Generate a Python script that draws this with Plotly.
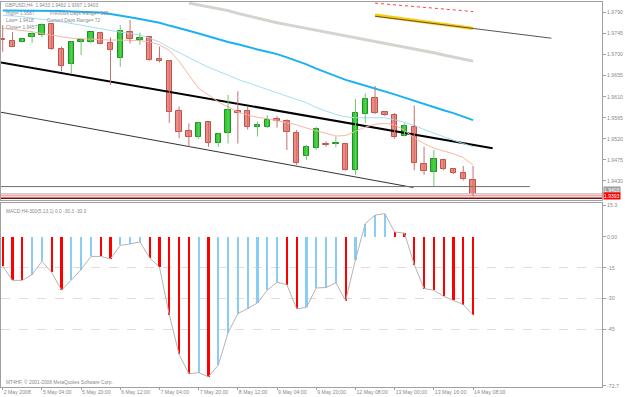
import plotly.graph_objects as go

# ---------------- data ----------------
bars = list(range(49))
opens = [1.9733, 1.9730, 1.9728, 1.9737, 1.9741, 1.9765, 1.9711, 1.9679, 1.9728, 1.9727,
         1.9746, 1.9725, 1.9692, 1.9749, 1.9731, 1.9737, 1.9691, 1.9686, 1.9580, 1.9537,
         1.9523, 1.9555, 1.9512, 1.9532, 1.9580, 1.9579, 1.9545, 1.9546, 1.9562, 1.9558,
         1.9533, 1.9483, 1.9500, 1.9510, 1.9508, 1.9510, 1.9453, 1.9573, 1.9607, 1.9577,
         1.9571, 1.9527, 1.9546, 1.9466, 1.9450, 1.9475, 1.9455, 1.9448, 1.9433]
highs = [1.9763, 1.9748, 1.9734, 1.9748, 1.9767, 1.9767, 1.9717, 1.9728, 1.9733, 1.9749,
         1.9749, 1.9737, 1.9763, 1.9774, 1.9747, 1.9738, 1.9717, 1.9688, 1.9589, 1.9553,
         1.9556, 1.9556, 1.9532, 1.9614, 1.9622, 1.9590, 1.9557, 1.9571, 1.9569, 1.9562,
         1.9539, 1.9507, 1.9546, 1.9515, 1.9525, 1.9511, 1.9605, 1.9617, 1.9633, 1.9579,
         1.9575, 1.9553, 1.9591, 1.9503, 1.9496, 1.9478, 1.9457, 1.9462, 1.9462]
lows = [1.9706, 1.9716, 1.9726, 1.9725, 1.9737, 1.9710, 1.9664, 1.9660, 1.9699, 1.9724,
        1.9722, 1.9635, 1.9674, 1.9724, 1.9721, 1.9687, 1.9683, 1.9554, 1.9521, 1.9503,
        1.9520, 1.9503, 1.9503, 1.9510, 1.9510, 1.9540, 1.9525, 1.9543, 1.9544, 1.9496,
        1.9464, 1.9475, 1.9496, 1.9503, 1.9502, 1.9452, 1.9443, 1.9553, 1.9573, 1.9569,
        1.9520, 1.9525, 1.9453, 1.9443, 1.9419, 1.9453, 1.9445, 1.9431, 1.9397]
closes = [1.9731, 1.9717, 1.9733, 1.9743, 1.9763, 1.9711, 1.9676, 1.9726, 1.9731, 1.9748,
          1.9723, 1.9710, 1.9751, 1.9733, 1.9735, 1.9689, 1.9686, 1.9577, 1.9535, 1.9523,
          1.9554, 1.9512, 1.9530, 1.9582, 1.9576, 1.9546, 1.9550, 1.9560, 1.9558, 1.9534,
          1.9468, 1.9503, 1.9540, 1.9507, 1.9512, 1.9453, 1.9575, 1.9605, 1.9575, 1.9571,
          1.9525, 1.9548, 1.9468, 1.9451, 1.9476, 1.9456, 1.9446, 1.9434, 1.9403]

ma_fast = [1.9756, 1.9754, 1.9751, 1.9749, 1.9745, 1.9741, 1.9738, 1.9735, 1.9734, 1.9732,
           1.9731, 1.9731, 1.9731, 1.9731, 1.9730, 1.9727, 1.9721, 1.9709, 1.9686, 1.9656,
           1.9628, 1.9614, 1.9599, 1.9588, 1.9577, 1.9571, 1.9566, 1.9563, 1.9559, 1.9555,
           1.9550, 1.9543, 1.9537, 1.9532, 1.9526, 1.9527, 1.9536, 1.9545, 1.9551, 1.9553,
           1.9550, 1.9538, 1.9522, 1.9510, 1.9500, 1.9494, 1.9488, 1.9480, 1.9464]
ma_mid = [1.9784, 1.9783, 1.9781, 1.9778, 1.9776, 1.9773, 1.9770, 1.9767, 1.9763, 1.9759,
          1.9755, 1.9751, 1.9748, 1.9745, 1.9742, 1.9735, 1.9727, 1.9715, 1.9704, 1.9694,
          1.9683, 1.9673, 1.9665, 1.9656, 1.9647, 1.9640, 1.9632, 1.9625, 1.9618, 1.9612,
          1.9604, 1.9597, 1.9587, 1.9579, 1.9572, 1.9567, 1.9565, 1.9565, 1.9565, 1.9565,
          1.9561, 1.9555, 1.9549, 1.9540, 1.9532, 1.9525, 1.9517, 1.9510, 1.9503]
ma_slow = [1.9794, 1.9794, 1.9794, 1.9794, 1.9793, 1.9793, 1.9793, 1.9792, 1.9791, 1.9791,
           1.9790, 1.9787, 1.9784, 1.9780, 1.9776, 1.9772, 1.9768, 1.9762, 1.9757, 1.9751,
           1.9745, 1.9739, 1.9732, 1.9727, 1.9722, 1.9716, 1.9711, 1.9706, 1.9701, 1.9694,
           1.9687, 1.9679, 1.9670, 1.9662, 1.9653, 1.9646, 1.9640, 1.9634, 1.9628, 1.9621,
           1.9615, 1.9608, 1.9601, 1.9594, 1.9588, 1.9581, 1.9575, 1.9568, 1.9560]
ma_long = [None] * 19 + [1.9810,
           1.9806, 1.9802, 1.9798, 1.9794, 1.9788, 1.9783, 1.9777, 1.9772, 1.9768, 1.9764,
           1.9760, 1.9756, 1.9752, 1.9748, 1.9744, 1.9740, 1.9736, 1.9732, 1.9729, 1.9725,
           1.9721, 1.9716, 1.9712, 1.9708, 1.9704, 1.9699, 1.9695, 1.9691, 1.9686]

macd = [-14.3, -21.2, -21.2, -18.4, -11.9, -17.3, -26.0, -20.8, -16.0, -9.5,
        -9.5, -10.7, -4.1, -3.4, -2.4, -10.2, -14.8, -37.9, -57.4, -66.8,
        -66.3, -68.3, -62.6, -46.8, -37.4, -35.0, -32.2, -26.0, -22.1, -23.3,
        -35.1, -34.4, -24.9, -24.7, -22.4, -31.1, -11.1, 6.5, 10.7, 11.4,
        2.4, 1.9, -13.5, -25.2, -26.0, -29.0, -30.9, -33.0, -38.2]

x_tick_bars = [0, 4, 8, 12, 16, 20, 24, 28, 32, 36, 40, 44, 48]
x_tick_text = ["2 May 2008", "5 May 04:00", "5 May 20:00", "6 May 12:00", "7 May 04:00",
               "7 May 20:00", "8 May 12:00", "9 May 04:00", "9 May 20:00", "12 May 08:00",
               "13 May 00:00", "13 May 16:00", "14 May 08:00"]
price_ticks = [1.9790, 1.9745, 1.9700, 1.9655, 1.9610, 1.9565, 1.9520, 1.9475, 1.9430]
macd_ticks = [15.3, 0.0, -15, -30, -45, -72.7]
macd_tick_text = ["15.3", "0.00", "-15", "-30", "-45", "-72.7"]
macd_grid = [-15, -30, -45]

# drawn objects: (bar positions, prices)
channel_top = ([-1, 50], [1.9686, 1.9500])
channel_bottom = ([-1, 41.9], [1.9580, 1.9416])
yellow_trend = ([38, 48], [1.9784, 1.9756])
gray_trend = ([38, 56], [1.9782, 1.9735])
red_dotted = ([38, 48], [1.9810, 1.9792])
prev_low = ([-1, 53.8], [1.9418, 1.9418])
bid_level = 1.9403
pink_level = 1.9399
red_level = 1.9393

# ---------------- styling / layout constants ----------------
W, H = 625, 397
ML, MR, MT, MB = 1, 23, 2, 10
PW, PH = W - ML - MR, H - MT - MB
GRAY = "#a0a0a0"
TXT = "#8a8a8a"
FONT = "Liberation Sans"


def dom(top_px, bot_px):
    return [(H - MB - bot_px) / PH, (H - MB - top_px) / PH]


def paper(px, py):
    return (px - ML) / PW, (H - MB - py) / PH


fig = go.Figure()

# long MA (grey)
fig.add_trace(go.Scatter(x=bars, y=ma_long, mode="lines",
                         line=dict(color="#d6d2ce", width=3), xaxis="x", yaxis="y"))
# trend lines
for (xs, ys), col, w, dash in [
    (channel_top, "#000000", 2, "solid"),
    (channel_bottom, "#333333", 1, "solid"),
    (yellow_trend, "#ffcc00", 3.5, "solid"),
    (gray_trend, "#555555", 1, "solid"),
    (red_dotted, "#ff4040", 1, "dot"),
    (prev_low, "#707070", 1, "solid"),
]:
    fig.add_trace(go.Scatter(x=xs, y=ys, mode="lines", line=dict(color=col, width=w, dash=dash),
                             xaxis="x", yaxis="y"))
for lvl, col, w in [(bid_level, "#c8c8c8", 1), (pink_level, "#f4a4a4", 2), (red_level, "#6a1010", 1.5)]:
    fig.add_trace(go.Scatter(x=[-1, 62], y=[lvl, lvl], mode="lines",
                             line=dict(color=col, width=w), xaxis="x", yaxis="y"))

# MAs
fig.add_trace(go.Scatter(x=bars, y=ma_slow, mode="lines", line=dict(color="#1ab2f0", width=2),
                         xaxis="x", yaxis="y"))
fig.add_trace(go.Scatter(x=bars, y=ma_mid, mode="lines", line=dict(color="#a8dcf6", width=1),
                         xaxis="x", yaxis="y"))
fig.add_trace(go.Scatter(x=bars, y=ma_fast, mode="lines", line=dict(color="#f7b7a3", width=1),
                         xaxis="x", yaxis="y"))

# wicks
for bull, col in [(False, "#c9716b"), (True, "#6cc86c")]:
    wx, wy = [], []
    for i, o, h, l, c in zip(bars, opens, highs, lows, closes):
        if (c > o) == bull:
            wx += [i, i, None]
            wy += [l, h, None]
    fig.add_trace(go.Scatter(x=wx, y=wy, mode="lines", line=dict(color=col, width=1),
                             xaxis="x", yaxis="y"))

# bodies
fig.add_trace(go.Bar(
    x=bars, y=[abs(c - o) for o, c in zip(opens, closes)],
    base=[min(o, c) for o, c in zip(opens, closes)], width=0.55,
    marker=dict(color=["#33cc33" if c > o else "#ee8a82" for o, c in zip(opens, closes)],
                line=dict(color=["#1f8f1f" if c > o else "#c0504a" for o, c in zip(opens, closes)],
                          width=1)),
    xaxis="x", yaxis="y"))

# MACD histogram
mcol = ["#ff0000"] + ["#87cdf5" if macd[i] > macd[i - 1] else "#ff0000" for i in range(1, len(macd))]
fig.add_trace(go.Bar(x=bars, y=macd, width=0.22, marker=dict(color=mcol, line=dict(width=0)),
                     xaxis="x2", yaxis="y2"))
fig.add_trace(go.Scatter(x=bars, y=macd, mode="lines", line=dict(color="#b4b4b4", width=1),
                         xaxis="x2", yaxis="y2"))

axis_font = dict(family=FONT, size=5.2, color=TXT)
fig.update_layout(
    width=W, height=H, margin=dict(l=ML, r=MR, t=MT, b=MB, autoexpand=False),
    paper_bgcolor="white", plot_bgcolor="white", showlegend=False,
    barmode="overlay", bargap=0,
    xaxis=dict(domain=[0, 1], anchor="y", range=[-0.173, 61.16], matches="x2",
               showticklabels=False, ticks="", showgrid=False, zeroline=False, automargin=False,
               showline=True, linecolor=GRAY, linewidth=1, mirror=True),
    yaxis=dict(domain=dom(2, 200), anchor="x", side="right", range=[1.93893, 1.98124],
               tickvals=price_ticks, ticktext=["%.4f" % v for v in price_ticks],
               ticks="outside", ticklen=3, tickcolor=GRAY, tickfont=axis_font,
               showgrid=False, zeroline=False, automargin=False,
               showline=True, linecolor=GRAY, linewidth=1, mirror=True),
    xaxis2=dict(domain=[0, 1], anchor="y2", range=[-0.173, 61.16],
                tickvals=x_tick_bars, ticktext=x_tick_text, ticklabelposition="outside right",
                tickangle=0, automargin=False,
                ticks="outside", ticklen=2, tickcolor=GRAY, tickfont=axis_font,
                showgrid=False, zeroline=False,
                showline=True, linecolor=GRAY, linewidth=1, mirror=True),
    yaxis2=dict(domain=dom(203, 387), anchor="x2", side="right", range=[-73.3, 16.6],
                tickvals=macd_ticks, ticktext=macd_tick_text, automargin=False,
                ticks="outside", ticklen=3, tickcolor=GRAY, tickfont=axis_font,
                showgrid=False, zeroline=False,
                minor=dict(tickvals=macd_grid, showgrid=True, gridcolor="#ead6d6",
                           griddash="dash", gridwidth=1, ticks=""),
                showline=True, linecolor=GRAY, linewidth=1, mirror=True),
)

texts = [
    ("GBPUSD,H4  1.9433 1.9462 1.9397 1.9403", 3, 5.5),
    ("High= 1.9587", 4, 13.3),
    ("Previous Days Range= 169", 48, 13.3),
    ("Low= 1.9418", 4, 20.7),
    ("Current Days Range= 72", 45, 20.7),
    ("Close= 1.9457", 4, 27.3),
    ("MACD H4-300(5,13,1) 0.0 -30.3 -30.3", 4, 211),
    ("MT4HF, \u00a9 2001-2008 MetaQuotes Software Corp.", 4, 382),
]
for t, px, py in texts:
    xp, yp = paper(px, py)
    fig.add_annotation(x=xp, y=yp, xref="paper", yref="paper", text=t, showarrow=False,
                       xanchor="left", yanchor="middle",
                       font=dict(family=FONT, size=4.8, color=TXT))

for lvl, bg, ys in [(bid_level, "#9c9c9c", 4.0), (red_level, "#ff0000", 1.8)]:
    fig.add_annotation(x=1.0, y=lvl, xref="paper", yref="y", text="%.4f" % lvl, showarrow=False,
                       xanchor="left", yanchor="middle", xshift=1, yshift=ys, bgcolor=bg,
                       borderpad=0, font=dict(family=FONT, size=5.0, color="white"))

fig.write_html("out.html")
